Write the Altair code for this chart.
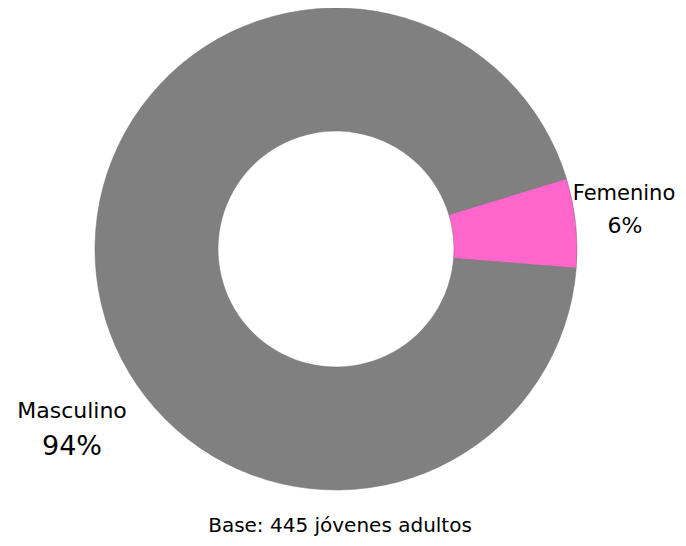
import altair as alt
import pandas as pd
import math

categories = ["Femenino", "Masculino"]
values = [6, 94]
labels = ["6%", "94%"]
colors = ["#FF66CC", "#808080"]
base_note = "Base: 445 jóvenes adultos"

df = pd.DataFrame({"cat": categories, "val": values, "lab": labels})

start = 1.274
FONT = "DejaVu Sans"

cx, cy = 328, 241

arc = alt.Chart(df).mark_arc(innerRadius=118, outerRadius=241, stroke="#6f6f6f", strokeWidth=0.5).encode(
    theta=alt.Theta("val:Q", stack=True, scale=alt.Scale(range=[start, start + 2 * math.pi])),
    color=alt.Color("cat:N", scale=alt.Scale(domain=categories, range=colors), legend=None),
    order=alt.Order("cat:N", sort="ascending"),
    x=alt.value(cx),
    y=alt.value(cy),
)

def lbl(cat, field, x, y, size):
    return alt.Chart(df).transform_filter(alt.datum.cat == cat).mark_text(
        font=FONT, fontSize=size, color="#000000", align="center", baseline="alphabetic"
    ).encode(text=f"{field}:N", x=alt.value(x), y=alt.value(y))

fem_name = lbl("Femenino", "cat", 616, 192, 21)
fem_pct = lbl("Femenino", "lab", 617, 225, 22)
mas_name = lbl("Masculino", "cat", 64, 410, 22)
mas_pct = lbl("Masculino", "lab", 64, 447, 27)

note = alt.Chart(pd.DataFrame({"t": [base_note]})).mark_text(
    font=FONT, fontSize=20, color="#000000", align="center", baseline="alphabetic"
).encode(text="t:N", x=alt.value(332), y=alt.value(524))

chart = alt.layer(arc, fem_name, fem_pct, mas_name, mas_pct, note).properties(
    width=670, height=530, padding=0, autosize=alt.AutoSizeParams(type="none")
).configure_view(stroke=None)

chart.save("out.html", embed_options={"renderer": "svg", "actions": False})
